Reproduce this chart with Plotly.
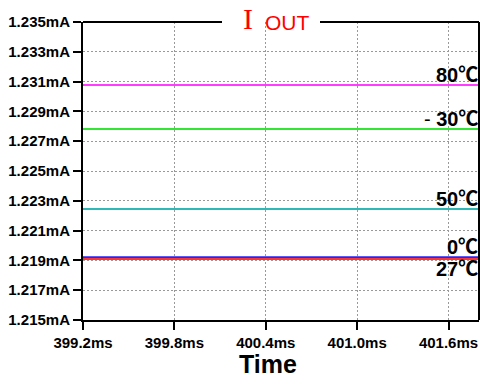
import plotly.graph_objects as go

# Output current vs. time at several temperatures
time_ms = [399.2, 401.8]
temp_labels = ["80℃", "<span style='font-weight:normal'>-</span> 30℃", "50℃", "0℃", "27℃"]
iout_ma = [1.23077, 1.22782, 1.22245, 1.21921, 1.21909]
line_colors = ["#FF3CFF", "#33E633", "#30B8B8", "#2424FF", "#FF3333"]
label_below = [False, False, False, False, True]

y_ticks = [1.215, 1.217, 1.219, 1.221, 1.223, 1.225, 1.227, 1.229, 1.231, 1.233, 1.235]
y_ticktext = [f"{v:.3f}mA" for v in y_ticks]
x_ticks = [399.2, 399.8, 400.4, 401.0, 401.6]
x_ticktext = ["399.2ms", "399.8ms", "400.4ms", "401.0ms", "401.6ms"]

W, H = 481, 380
L, R, T, B = 83, 2, 22, 60
PW, PH = W - L - R, H - T - B


def px(x):
    return (x - L) / PW


def py(y):
    return (H - B - y) / PH


fig = go.Figure()
for val, col in zip(iout_ma, line_colors):
    fig.add_trace(go.Scatter(
        x=time_ms, y=[val, val], mode="lines",
        line=dict(color=col, width=2), showlegend=False, hoverinfo="skip",
    ))

label_font = dict(family="Liberation Sans, Arial, Noto Sans CJK SC", size=20, color="black")
for val, txt, below in zip(iout_ma, temp_labels, label_below):
    fig.add_annotation(
        x=1, xref="paper", xanchor="right", y=val, yref="y",
        yanchor="top" if below else "bottom",
        yshift=2 if below else -2,
        text="<b>" + txt + "</b>", showarrow=False, font=label_font,
        borderpad=0,
    )

# Title "I OUT" sitting on the top frame line
fig.add_annotation(
    x=px(247.5), y=py(18), xref="paper", yref="paper", xanchor="center", yanchor="middle",
    text="I", showarrow=False,
    font=dict(family="Liberation Serif, Times New Roman, serif", size=30, color="red"),
)
fig.add_annotation(
    x=px(287), y=py(22), xref="paper", yref="paper", xanchor="center", yanchor="middle",
    text="OUT", showarrow=False,
    font=dict(family="Liberation Sans, Arial, sans-serif", size=21, color="red"),
)

# X axis title
fig.add_annotation(
    x=px(268), y=py(364), xref="paper", yref="paper", xanchor="center", yanchor="middle",
    text="<b>Time</b>", showarrow=False,
    font=dict(family="Liberation Sans, Arial, sans-serif", size=25, color="black"),
)

# Frame: top edge broken around the title, right edge
frame = dict(color="black", width=2)
fig.add_shape(type="line", xref="paper", yref="paper", x0=0, x1=px(222), y0=1, y1=1, line=frame)
fig.add_shape(type="line", xref="paper", yref="paper", x0=px(320), x1=1, y0=1, y1=1, line=frame)
fig.add_shape(type="line", xref="paper", yref="paper", x0=1, x1=1, y0=0, y1=1, line=frame)

tick_font = dict(family="Liberation Sans, Arial, sans-serif", size=15, color="black", weight="bold")
grid_dash = "2px,2px"

fig.update_xaxes(
    range=[time_ms[0], time_ms[-1]],
    tickvals=x_ticks, ticktext=x_ticktext,
    ticks="outside", ticklen=8, tickwidth=2, tickcolor="black",
    showline=True, linecolor="black", linewidth=2,
    showgrid=True, gridcolor="#999999", griddash=grid_dash, gridwidth=1,
    zeroline=False, tickfont=tick_font,
)
fig.update_yaxes(
    range=[y_ticks[0], y_ticks[-1]],
    tickvals=y_ticks, ticktext=y_ticktext,
    ticks="outside", ticklen=8, tickwidth=2, tickcolor="black",
    showline=True, linecolor="black", linewidth=2,
    showgrid=True, gridcolor="#999999", griddash=grid_dash, gridwidth=1,
    zeroline=False, tickfont=tick_font,
)

fig.update_layout(
    width=W, height=H,
    margin=dict(l=L, r=R, t=T, b=B),
    paper_bgcolor="white", plot_bgcolor="white",
)

fig.write_html("out.html")
